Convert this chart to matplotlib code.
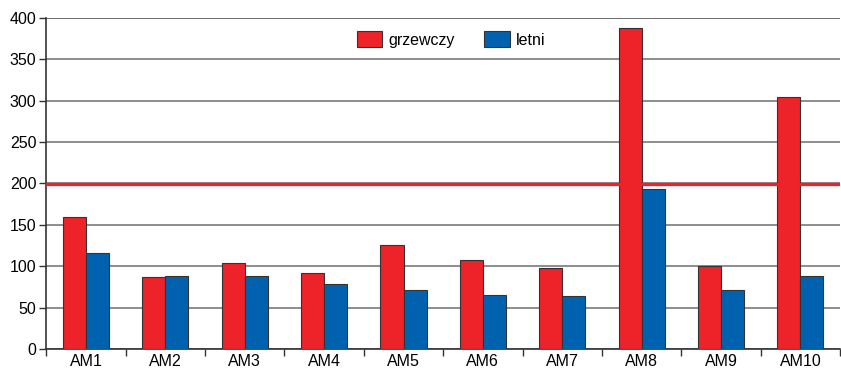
import numpy as np
import matplotlib.pyplot as plt

plt.rcParams['font.family'] = ['Liberation Sans', 'DejaVu Sans']

# punkty pomiarowe i stężenia w dwóch sezonach
stations = ['AM1', 'AM2', 'AM3', 'AM4', 'AM5', 'AM6', 'AM7', 'AM8', 'AM9', 'AM10']
grzewczy = [160, 87, 104, 92, 125, 108, 98, 388, 100, 305]
letni = [116, 88, 88, 79, 71, 65, 64, 193, 71, 88]
limit = 199

red = '#ee2229'
blue = '#0062af'

fig = plt.figure(figsize=(8.41, 3.68), dpi=100)
ax = fig.add_axes([0.055, 0.052, 0.944, 0.899])

x = np.arange(len(stations))
w = 0.29
ax.bar(x - w / 2, grzewczy, w, color=red, edgecolor='#333333', linewidth=0.8,
       label='grzewczy', zorder=3)
ax.bar(x + w / 2, letni, w, color=blue, edgecolor='#333333', linewidth=0.8,
       label='letni', zorder=3)

# linia dopuszczalnej wartości
ax.axhline(limit, color=red, linewidth=2.4, zorder=4)

ax.set_xlim(-0.5, len(stations) - 0.5)
ax.set_ylim(0, 400)
ax.set_yticks(np.arange(0, 401, 50))
ax.yaxis.grid(True, color='#7a7a7a', linewidth=1.2, zorder=0)
ax.axhline(400, color='#333333', linewidth=1.2, zorder=1)

# podpisy kategorii w środku, kreski na granicach
ax.set_xticks(x)
ax.set_xticklabels(stations, fontsize=11.5)
ax.set_xticks(np.arange(-0.5, len(stations), 1), minor=True)
ax.tick_params(axis='x', which='major', length=0, pad=4)
ax.tick_params(axis='x', which='minor', length=5, width=1, color='#333333')
ax.tick_params(axis='y', length=5, width=1, color='#333333', labelsize=11.5, pad=2)

for s in ['top', 'right']:
    ax.spines[s].set_visible(False)
ax.spines['left'].set_color('#333333')
ax.spines['bottom'].set_color('#333333')
ax.spines['left'].set_linewidth(1.2)
ax.spines['bottom'].set_linewidth(1.2)

ax.legend(loc='center', bbox_to_anchor=(0.51, 0.935), ncol=2, frameon=False,
          fontsize=11.5, handlelength=1.6, handleheight=1.1, columnspacing=1.8,
          handletextpad=0.4)

plt.savefig('out.png', dpi=100)
plt.close(fig)
